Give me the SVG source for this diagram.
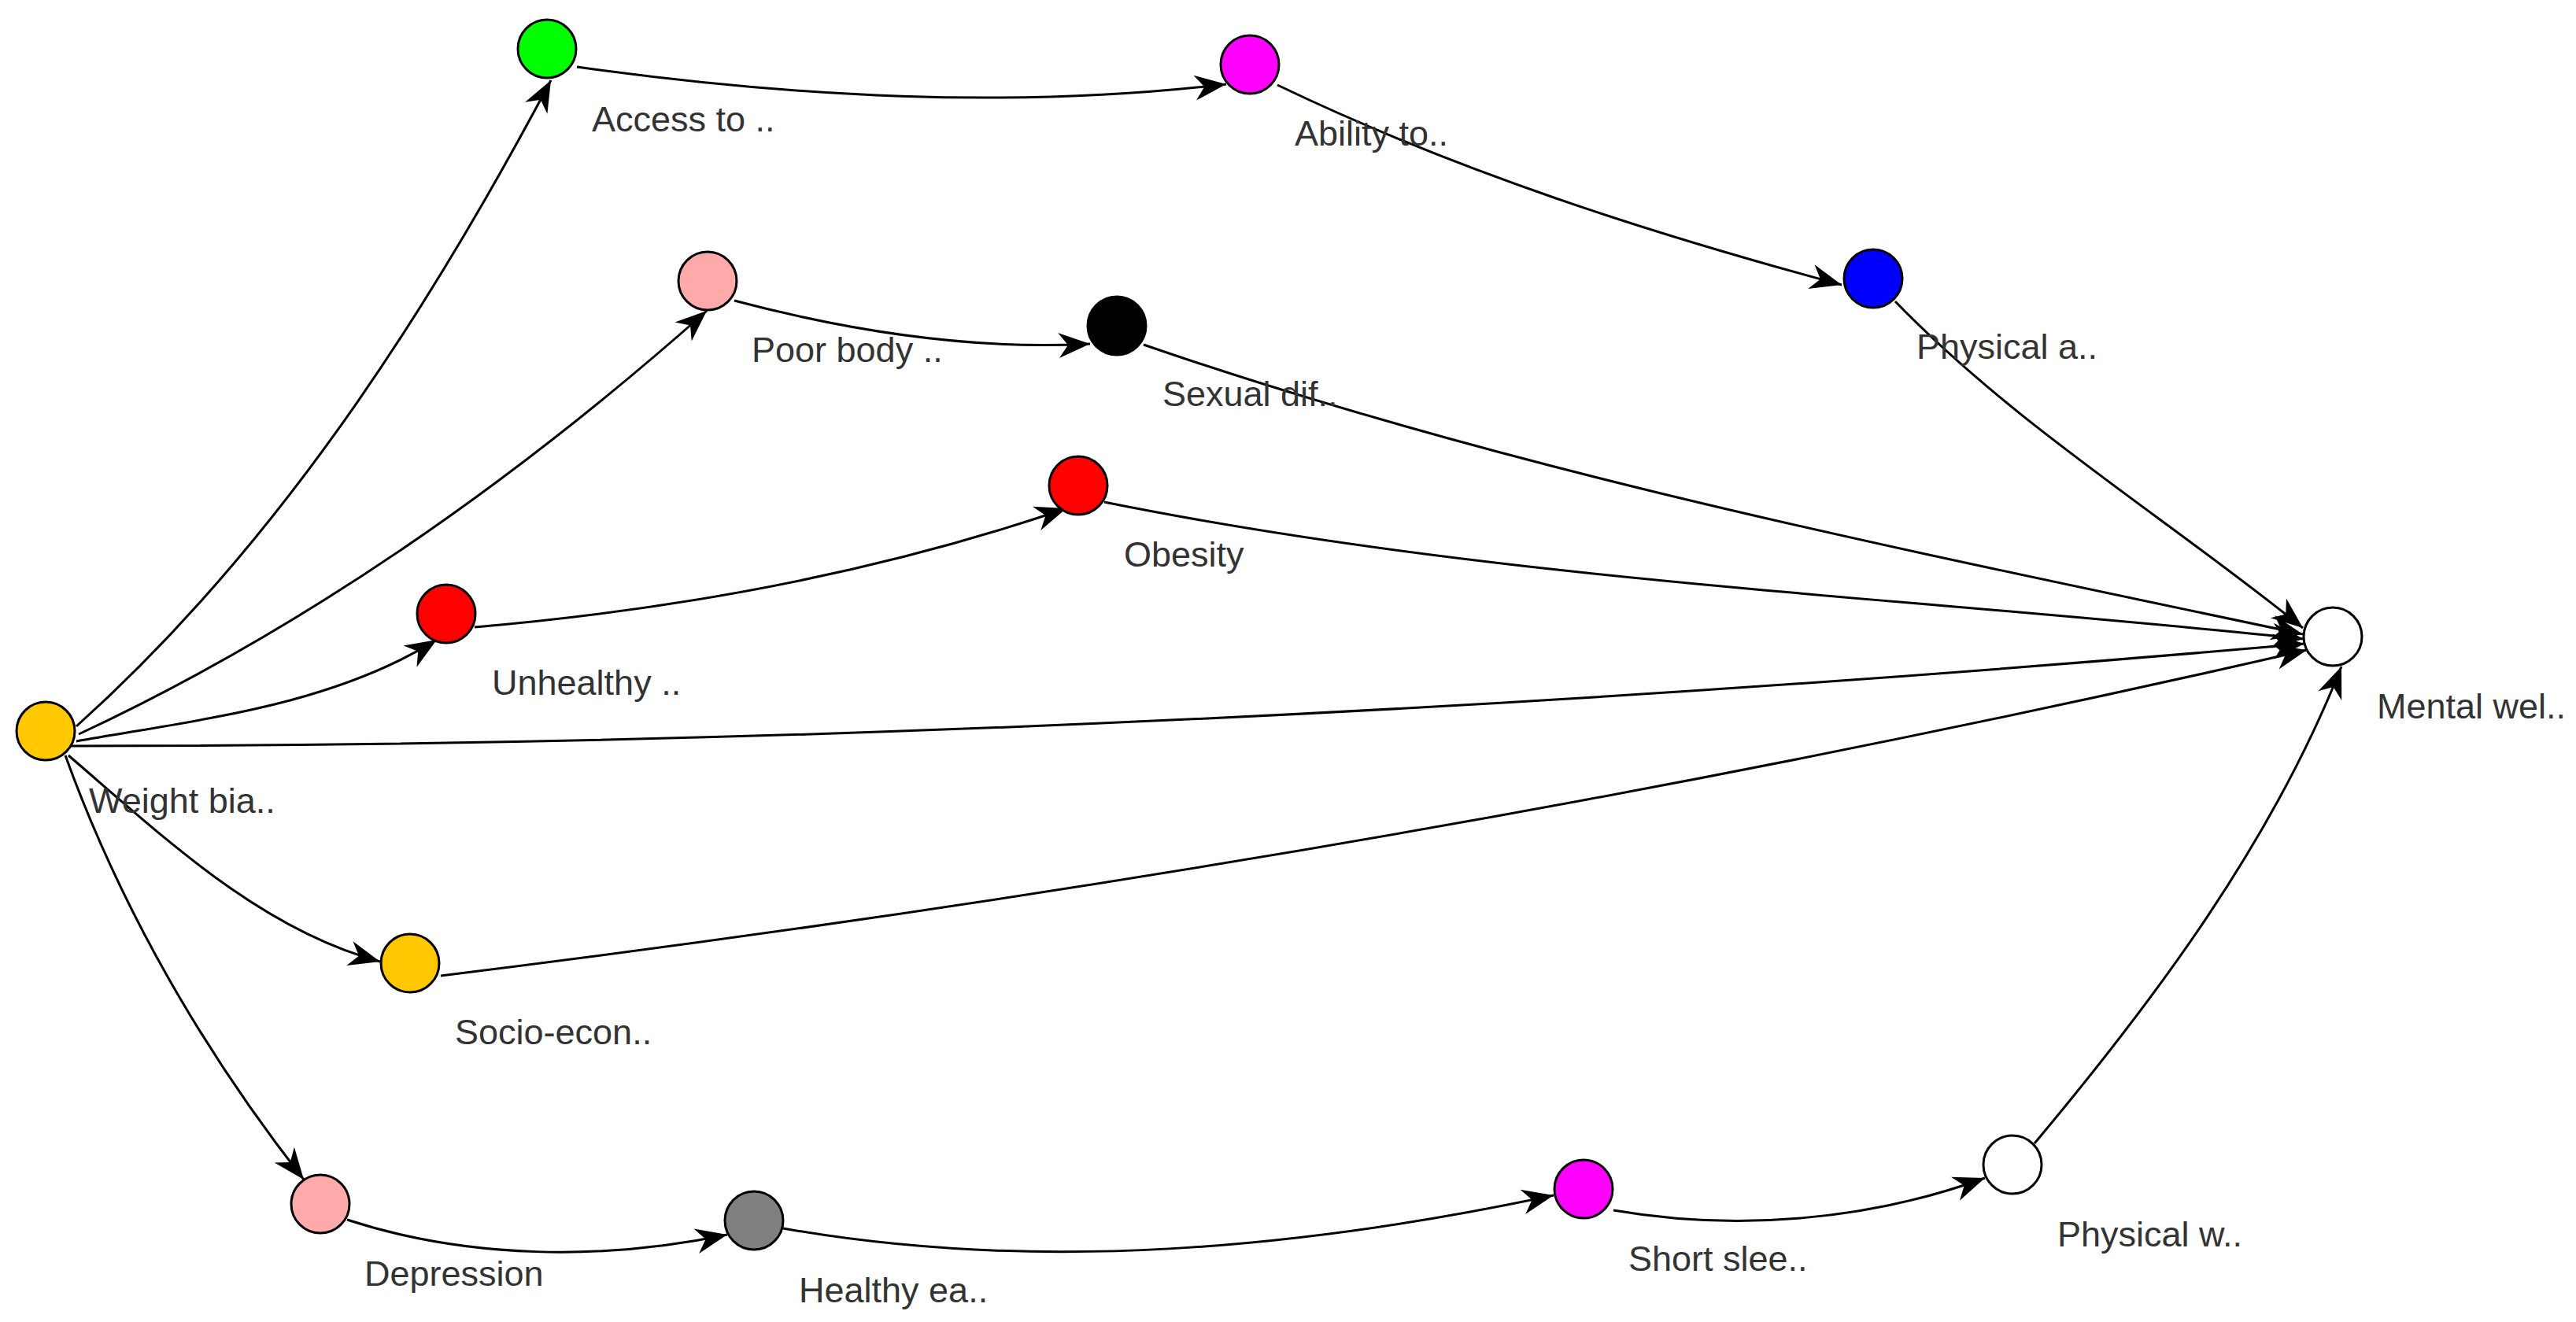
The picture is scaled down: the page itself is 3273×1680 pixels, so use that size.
<svg xmlns="http://www.w3.org/2000/svg" width="3273" height="1680" viewBox="0 0 3273 1680">
<style>
.e{fill:none;stroke:#000;stroke-width:3;marker-end:url(#arr)}
.n{stroke:#000;stroke-width:3}
.t{font-family:"Liberation Sans",Arial,sans-serif;font-size:45px;fill:#333}
</style>
<defs>
<marker id="arr" viewBox="-42 -18 44 36" refX="0" refY="0" markerWidth="44" markerHeight="36" markerUnits="userSpaceOnUse" orient="auto">
<path d="M0,0 L-40,-16 L-28,0 L-40,16 Z" fill="#000"/>
</marker>
</defs>
<rect width="3273" height="1680" fill="#fff"/>
<g id="connectors">
<path class="e" d="M97,923 C350,696 541,402 700,102"/>
<path class="e" d="M733,85 C1005,123 1285,139 1558,107"/>
<path class="e" d="M1623,108 C1852,218 2095,296 2340,362"/>
<path class="e" d="M2408,383 C2562,542 2754,659 2926,798"/>
<path class="e" d="M100,933 C391,797 658,608 898,395"/>
<path class="e" d="M933,382 C1080,421 1233,445 1385,437"/>
<path class="e" d="M1453,438 C1932,603 2431,701 2926,806"/>
<path class="e" d="M97,942 C254,914 420,897 555,813"/>
<path class="e" d="M603,797 C858,775 1113,729 1355,646"/>
<path class="e" d="M1403,638 C1904,739 2419,758 2927,812"/>
<path class="e" d="M90,948 C1037,948 1985,901 2928,818"/>
<path class="e" d="M87,960 C207,1063 330,1181 483,1222"/>
<path class="e" d="M560,1240 C1356,1142 2150,1006 2931,826"/>
<path class="e" d="M83,960 C153,1154 259,1337 386,1499"/>
<path class="e" d="M441,1550 C594,1600 767,1602 924,1569"/>
<path class="e" d="M995,1561 C1317,1618 1654,1587 1974,1519"/>
<path class="e" d="M2050,1538 C2206,1565 2374,1551 2522,1497"/>
<path class="e" d="M2585,1453 C2739,1269 2887,1070 2975,847"/>
</g>
<g id="weight"><circle class="n" cx="58" cy="929" r="37" fill="#FFC800"/><text class="t" x="113" y="1033">Weight bia..</text></g>
<g id="access"><circle class="n" cx="695" cy="62" r="37" fill="#00FF00"/><text class="t" x="752" y="167">Access to ..</text></g>
<g id="ability"><circle class="n" cx="1588" cy="82" r="37" fill="#FF00FF"/><text class="t" x="1645" y="185">Ability to..</text></g>
<g id="physical-a"><circle class="n" cx="2380" cy="354" r="37" fill="#0000FF"/><text class="t" x="2435" y="456">Physical a..</text></g>
<g id="poor-body"><circle class="n" cx="899" cy="357" r="37" fill="#FFAAAA"/><text class="t" x="955" y="460">Poor body ..</text></g>
<g id="sexual"><circle class="n" cx="1419" cy="414" r="37" fill="#000000"/><text class="t" x="1477" y="516">Sexual dif..</text></g>
<g id="unhealthy"><circle class="n" cx="567" cy="780" r="37" fill="#FF0000"/><text class="t" x="625" y="883">Unhealthy ..</text></g>
<g id="obesity"><circle class="n" cx="1370" cy="617" r="37" fill="#FF0000"/><text class="t" x="1428" y="720">Obesity</text></g>
<g id="mental"><circle class="n" cx="2964" cy="809" r="37" fill="#FFFFFF"/><text class="t" x="3020" y="913">Mental wel..</text></g>
<g id="socio"><circle class="n" cx="521" cy="1224" r="37" fill="#FFC800"/><text class="t" x="578" y="1327">Socio-econ..</text></g>
<g id="depression"><circle class="n" cx="407" cy="1530" r="37" fill="#FFAAAA"/><text class="t" x="463" y="1634">Depression</text></g>
<g id="healthy"><circle class="n" cx="958" cy="1551" r="37" fill="#808080"/><text class="t" x="1015" y="1655">Healthy ea..</text></g>
<g id="short-sleep"><circle class="n" cx="2012" cy="1511" r="37" fill="#FF00FF"/><text class="t" x="2069" y="1615">Short slee..</text></g>
<g id="physical-w"><circle class="n" cx="2557" cy="1480" r="37" fill="#FFFFFF"/><text class="t" x="2614" y="1584">Physical w..</text></g>
</svg>
